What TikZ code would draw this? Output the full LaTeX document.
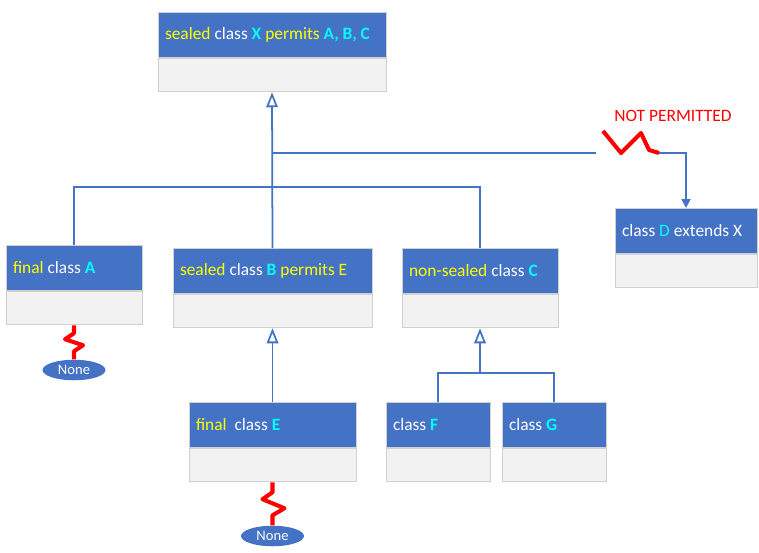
\documentclass[tikz,border=0pt]{standalone}
\usepackage{fontspec}
\setmainfont{Carlito}
\usetikzlibrary{positioning, arrows.meta, shapes.geometric}
\definecolor{hdrblue}{RGB}{68,114,196}
\definecolor{bodygray}{RGB}{242,242,242}
\definecolor{edgegray}{RGB}{208,208,208}
\definecolor{kwyellow}{RGB}{255,255,0}
\definecolor{namecyan}{RGB}{0,255,255}
\definecolor{breakred}{RGB}{255,0,0}
\newcommand{\kwd}[1]{\textcolor{kwyellow}{#1}}
\newcommand{\clsname}[1]{\textcolor{namecyan}{\textbf{#1}}}
\tikzset{
	hdr/.style={rectangle, draw=edgegray, fill=hdrblue, text=white, line width=0.5pt, minimum height=0.9cm, inner xsep=0.14cm, inner ysep=0pt, align=flush left, anchor=north, font=\fontsize{9.9pt}{12pt}\selectfont},
	body/.style={rectangle, draw=edgegray, fill=bodygray, line width=0.5pt, minimum height=0.67cm, inner xsep=0.14cm, inner ysep=0pt},
	link/.style={draw=hdrblue, line width=1pt},
	isa/.style={link, -{Triangle[open, width=0.23cm, length=0.3cm]}},
	zig/.style={draw=breakred, line width=2.3pt, line join=round},
	endnode/.style={ellipse, fill=hdrblue, text=white, minimum width=1.26cm, minimum height=0.41cm, inner sep=0pt, font=\fontsize{8.3pt}{10pt}\selectfont}
}
\begin{document}
\begin{tikzpicture}[x=0.02cm, y=-0.02cm]
	\useasboundingbox (0,0) rectangle (759,552);
	\node[hdr, text width=4.28cm] (X) at (272,12) {\kwd{sealed} class \clsname{X} \kwd{permits} \clsname{A, B, C}};
	\node[body, text width=4.28cm, below=0pt of X] (Xb) {};
	\node[hdr, text width=2.44cm] (A) at (74,245) {\kwd{final} class \clsname{A}};
	\node[body, text width=2.44cm, below=0pt of A] (Ab) {};
	\node[hdr, text width=3.70cm] (B) at (272.5,248) {\kwd{sealed} class \clsname{B} \kwd{permits E}};
	\node[body, text width=3.70cm, below=0pt of B] (Bb) {};
	\node[hdr, text width=2.84cm] (C) at (480,248) {\kwd{non-sealed} class \clsname{C}};
	\node[body, text width=2.84cm, below=0pt of C] (Cb) {};
	\node[hdr, text width=2.56cm] (D) at (686,208) {class \textcolor{namecyan}{D} extends X};
	\node[body, text width=2.56cm, below=0pt of D] (Db) {};
	\node[hdr, text width=3.06cm] (E) at (272.5,402) {\kwd{final}\ \ class \clsname{E}};
	\node[body, text width=3.06cm, below=0pt of E] (Eb) {};
	\node[hdr, text width=1.80cm] (F) at (438,402) {class \clsname{F}};
	\node[body, text width=1.80cm, below=0pt of F] (Fb) {};
	\node[hdr, text width=1.80cm] (G) at (554,402) {class \clsname{G}};
	\node[body, text width=1.80cm, below=0pt of G] (Gb) {};
	\node[endnode] (noneA) at (74,370) {None};
	\node[endnode] (noneE) at (272.5,536) {None};
	\node[text=breakred, font=\fontsize{9.9pt}{12pt}\selectfont] (np) at (673,116) {NOT PERMITTED};

	\coordinate (bus) at (272,187);
	\coordinate (tap) at (272,153);
	\coordinate (cbus) at (480,373);
	\draw[isa] (B.north) -- (Xb.south);
	\draw[link] (A.north) |- (bus) -| (C.north);
	\draw[link] (tap) -- (596,153);
	\draw[zig] (603,131) -- (621,153) -- (641,133) -- (649,150) -- (659,153) coordinate (mend);
	\draw[link, -{Triangle[width=0.18cm, length=0.18cm]}] (mend) -| (D.north);
	\draw[isa] (E.north) -- (Bb.south);
	\draw[isa] (cbus) -- (Cb.south);
	\draw[link] (F.north) |- (cbus) -| (G.north);
	\draw[zig] (Ab.south) -- ++(0,8) -- ++(-9,6) -- ++(18,6) -- ++(-9,6) -- (noneA.north);
	\draw[zig] (Eb.south) -- ++(0,10) -- ++(-10,7) -- ++(22,9) -- ++(-12,7) -- (noneE.north);
\end{tikzpicture}
\end{document}
